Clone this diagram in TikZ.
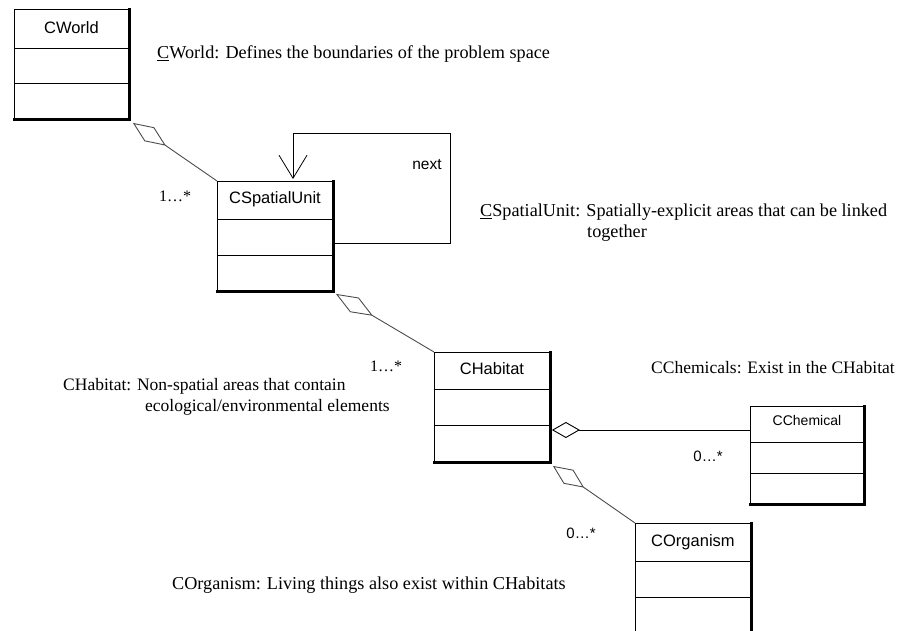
\documentclass[tikz,border=0pt]{standalone}
\usepackage{fontspec}
\setmainfont{Liberation Serif}
\setsansfont{Liberation Sans}
\usetikzlibrary{arrows.meta,calc}
\begin{document}
\begin{tikzpicture}[x=1pt,y=-1pt,
  umlbox/.style={draw, line width=0.9pt, inner sep=0pt, anchor=north west,
    minimum width=115pt, minimum height=109pt},
  boxline/.style={line width=0.9pt},
  shadowline/.style={line width=2.3pt, line cap=rect},
  boxtitle/.style={font=\sffamily\fontsize{16.5}{20}\selectfont, inner sep=0pt},
  smalltitle/.style={font=\sffamily\fontsize{14}{17}\selectfont, inner sep=0pt},
  note/.style={font=\fontsize{17.5}{20}\selectfont, inner sep=0pt, anchor=west},
  bignote/.style={note, font=\fontsize{18.2}{20}\selectfont},
  mult/.style={font=\fontsize{16}{19}\selectfont, inner sep=0pt},
  smult/.style={font=\sffamily\fontsize{15}{18}\selectfont, inner sep=0pt},
  agg/.style={draw=black!70, line width=0.9pt},
  diam/.style={{Diamond[open,length=#1,width=17pt]}-},
  ]
\useasboundingbox (0,0) rectangle (905,631);

% boxes
\node[umlbox, minimum width=114pt] (cworld) at (14,9) {};
\node[umlbox] (csu) at (217,181) {};
\node[umlbox] (chab) at (434,352) {};
\node[umlbox, minimum width=113pt, minimum height=97pt] (cchem) at (750,406) {};
\node[umlbox] (corg) at (635,523) {};

\foreach \b/\p/\q in {cworld/39/74, csu/38/74, chab/37/73, cchem/36/67, corg/38/74}{
  \draw[boxline] ($(\b.north west)+(0,\p)$) -- ($(\b.north east)+(0,\p)$);
  \draw[boxline] ($(\b.north west)+(0,\q)$) -- ($(\b.north east)+(0,\q)$);
  \draw[shadowline] ($(\b.north east)+(0.5,0)$) -- ($(\b.south east)+(0.5,0.5)$) -- ($(\b.south west)+(0,0.5)$);
}

% titles
\node[boxtitle] (cworldt) at ($(cworld.north)+(0,19)$) {CWorld};
\node[boxtitle] (csut) at ($(csu.north)+(0,18)$) {CSpatialUnit};
\node[boxtitle] (chabt) at ($(chab.north)+(0,17)$) {CHabitat};
\node[smalltitle] (cchemt) at ($(cchem.north)+(0,14)$) {CChemical};
\node[boxtitle] (corgt) at ($(corg.north)+(0,19)$) {COrganism};

% aggregations
\draw[agg, diam=40pt] ($(cworld.south east)+(4,4)$) -- (csu.north west);
\draw[agg, diam=43pt] ($(csu.south east)+(3,3)$) -- (chab.north west);
\draw[agg, diam=38pt] ($(chab.south east)+(3,4)$) -- (corg.north west);
\draw[line width=0.9pt, {Diamond[open,length=28pt,width=16pt]}-] ($(chab.north east)+(2,78)$) -- (cchem.west |- {$(chab.north east)+(2,78)$});

% self loop
\coordinate (loopA) at (450,243);
\coordinate (loopB) at (293,133);
\draw[line width=0.8pt, -{Straight Barb[length=23pt,width=28pt,line width=0.8pt]}]
  (csu.north east |- loopA) -- (loopA) |- (loopB) -- ($(loopB |- csu.north)+(0,-2)$);
\node[font=\sffamily\fontsize{15.5}{18}\selectfont, inner sep=0pt] (nextlbl) at (427,165) {next};

% multiplicities
\node[mult] (m1) at (175,196) {1…*};
\node[mult] (m2) at (386,366) {1…*};
\node[smult] (m3) at (708,456) {0…*};
\node[smult] (m4) at (581,533) {0…*};

% notes
\node[bignote] (n1) at (157,54) {\underline{C}World: Defines the boundaries of the problem space};
\node[bignote] (n2) at (480,212) {\underline{C}SpatialUnit: Spatially-explicit areas that can be linked};
\node[bignote] (n2b) at (587,233) {together};
\node[note] (n3) at (651,368) {CChemicals: Exist in the CHabitat};
\node[note] (n4) at (63,386) {CHabitat: Non-spatial areas that contain};
\node[note] (n4b) at (145,407) {ecological/environmental elements};
\node[bignote] (n5) at (172,585) {COrganism: Living things also exist within CHabitats};
\end{tikzpicture}
\end{document}
